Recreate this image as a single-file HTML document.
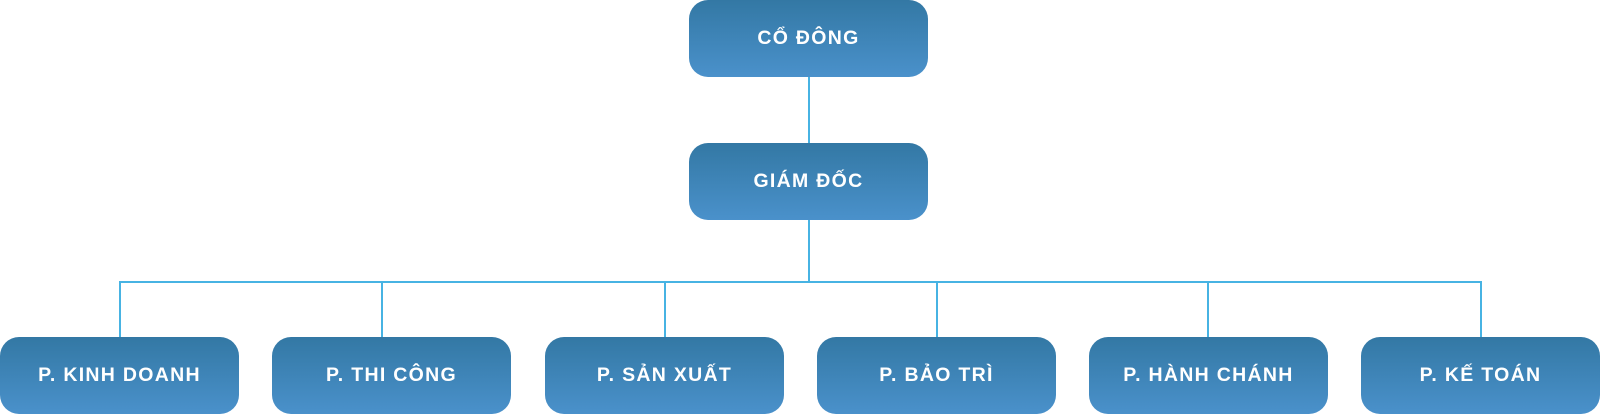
<!DOCTYPE html>
<html><head><meta charset="utf-8"><style>
html,body{margin:0;padding:0;background:#fff;width:1600px;height:415px;overflow:hidden;position:relative}
.b{position:absolute;width:239px;height:77px;border-radius:19px;background:linear-gradient(#3378a4,#4a91cb);color:#fff;font-family:"Liberation Sans","DejaVu Sans",sans-serif;font-weight:bold;font-size:19.5px;letter-spacing:1.3px;display:flex;align-items:center;justify-content:center}
.l{position:absolute;background:#47b3e3}
</style></head><body>
<div class="l" style="left:808px;top:76px;width:2px;height:68px"></div>
<div class="l" style="left:808px;top:220px;width:2px;height:62px"></div>
<div class="l" style="left:119px;top:281px;width:1363px;height:2px"></div>
<div class="l" style="left:119px;top:281px;width:2px;height:57px"></div>
<div class="l" style="left:381px;top:281px;width:2px;height:57px"></div>
<div class="l" style="left:664px;top:281px;width:2px;height:57px"></div>
<div class="l" style="left:936px;top:281px;width:2px;height:57px"></div>
<div class="l" style="left:1207px;top:281px;width:2px;height:57px"></div>
<div class="l" style="left:1480px;top:281px;width:2px;height:57px"></div>
<div class="b" style="left:689px;top:0">CỔ ĐÔNG</div>
<div class="b" style="left:689px;top:143px">GIÁM ĐỐC</div>
<div class="b" style="left:0;top:337px">P. KINH DOANH</div>
<div class="b" style="left:272px;top:337px">P. THI CÔNG</div>
<div class="b" style="left:545px;top:337px">P. SẢN XUẤT</div>
<div class="b" style="left:817px;top:337px">P. BẢO TRÌ</div>
<div class="b" style="left:1089px;top:337px">P. HÀNH CHÁNH</div>
<div class="b" style="left:1361px;top:337px">P. KẾ TOÁN</div>
</body></html>
